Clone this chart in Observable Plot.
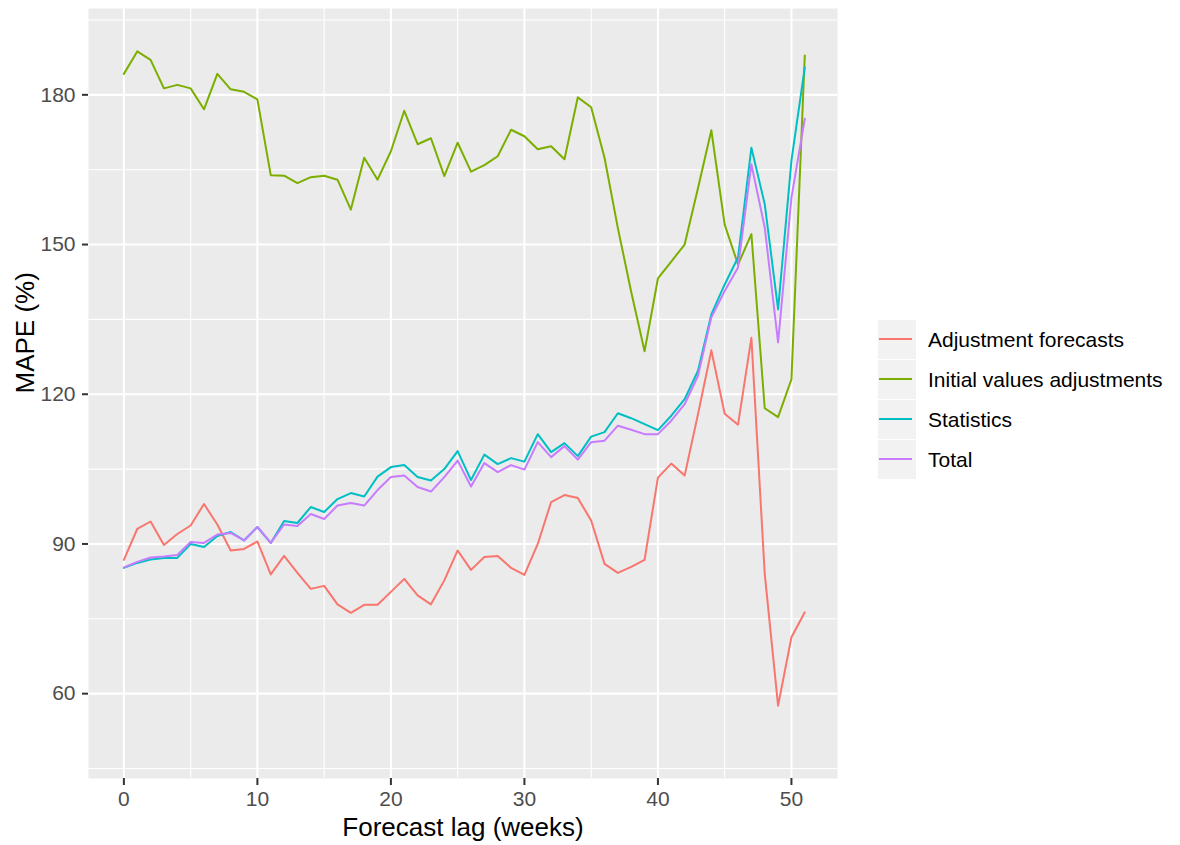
<!DOCTYPE html>
<html>
<head>
<meta charset="utf-8">
<script src="https://cdn.jsdelivr.net/npm/d3@7"></script>
<script src="https://cdn.jsdelivr.net/npm/@observablehq/plot@0.6"></script>
<style>
html,body{margin:0;padding:0;background:#fff;}
#wrap{position:relative;width:1180px;height:845px;font-family:"Liberation Sans",Arial,sans-serif;}
#wrap svg{position:absolute;left:0;top:0;}
#legend{position:absolute;left:878px;top:320px;}
.row{display:flex;align-items:center;height:40px;}
.key{width:38px;height:39px;margin-bottom:1px;background:#F2F2F2;position:relative;}
.key span{position:absolute;left:1px;width:33px;top:18px;height:2px;}
.lab{margin-left:12px;font-size:21px;color:#000;white-space:nowrap;}
</style>
</head>
<body>
<div id="wrap"><div id="legend"></div></div>
<script>
const series = ["Adjustment forecasts", "Initial values adjustments", "Statistics", "Total"];
const colors = ["#F8766D", "#7CAE00", "#00BFC4", "#C77CFF"];

const lags = [0,1,2,3,4,5,6,7,8,9,10,11,12,13,14,15,16,17,18,19,20,21,22,23,24,25,
  26,27,28,29,30,31,32,33,34,35,36,37,38,39,40,41,42,43,44,45,46,47,48,49,50,51];

const adjustmentForecasts = [86.8,93.0,94.5,89.8,92.0,93.7,98.0,93.9,88.7,89.0,
  90.5,83.9,87.6,84.2,81.0,81.6,77.9,76.2,77.8,77.8,
  80.4,83.0,79.7,77.9,82.7,88.7,84.8,87.4,87.6,85.2,
  83.8,90.0,98.4,99.8,99.2,94.7,86.0,84.2,85.4,86.8,
  103.3,106.1,103.7,116.0,128.8,116.1,113.9,131.3,84.0,57.6,
  71.3,76.3];
const initialValuesAdjustments = [184.2,188.7,187.0,181.3,182.0,181.3,177.1,184.2,181.1,180.6,
  179.1,163.9,163.8,162.3,163.5,163.8,163.0,157.0,167.4,163.0,
  168.7,176.8,170.1,171.3,163.7,170.4,164.6,165.9,167.7,173.0,
  171.7,169.1,169.7,167.1,179.5,177.5,167.4,153.3,140.5,128.6,
  143.2,146.6,150.0,161.3,172.9,154.0,146.0,152.1,117.2,115.4,
  123.0,187.9];
const statistics = [85.2,86.2,86.9,87.2,87.2,90.0,89.4,91.6,92.4,90.7,
  93.4,90.2,94.6,94.2,97.4,96.4,99.0,100.2,99.5,103.5,
  105.4,105.8,103.4,102.7,105.0,108.6,102.8,107.9,106.0,107.2,
  106.5,112.0,108.4,110.2,107.6,111.5,112.4,116.2,115.2,114.0,
  112.8,115.7,119.0,124.7,136.0,142.0,147.4,169.4,158.1,137.0,
  166.8,185.5];
const total = [85.3,86.4,87.3,87.5,87.8,90.4,90.2,91.9,92.2,90.7,
  93.4,90.2,93.9,93.6,96.0,95.0,97.7,98.2,97.7,100.8,
  103.4,103.7,101.4,100.5,103.4,106.7,101.5,106.2,104.4,105.8,
  104.9,110.4,107.4,109.6,106.9,110.4,110.7,113.7,112.9,112.0,
  112.0,114.7,118.0,123.7,135.4,140.7,145.4,166.1,153.4,130.4,
  159.4,175.2];

const xTicks = [0,10,20,30,40,50];
const xMinor = [5,15,25,35,45];
const yTicks = [60,90,120,150,180];
const yMinor = [45,75,105,135,165,195];

const xTitle = "Forecast lag (weeks)";
const yTitle = "MAPE (%)";

const valueSets = [adjustmentForecasts, initialValuesAdjustments, statistics, total];
const data = [];
series.forEach((s, i) => valueSets[i].forEach((v, j) => data.push({lag: lags[j], mape: v, series: s})));

const chart = Plot.plot({
  width: 1180,
  height: 845,
  marginLeft: 88,
  marginRight: 343,
  marginTop: 8,
  marginBottom: 67,
  style: {fontFamily: "Liberation Sans, Arial, sans-serif", fontSize: "21px", background: "transparent", overflow: "visible"},
  x: {domain: [-2.65, 53.45]},
  y: {domain: [43.0, 197.3]},
  color: {domain: series, range: colors},
  marks: [
    Plot.frame({fill: "#EBEBEB", stroke: "none"}),
    Plot.ruleX(xMinor, {stroke: "#FFFFFF", strokeWidth: 1.1}),
    Plot.ruleY(yMinor, {stroke: "#FFFFFF", strokeWidth: 1.1}),
    Plot.ruleX(xTicks, {stroke: "#FFFFFF", strokeWidth: 2.1}),
    Plot.ruleY(yTicks, {stroke: "#FFFFFF", strokeWidth: 2.1}),
    Plot.line(data, {x: "lag", y: "mape", z: "series", stroke: "series", strokeWidth: 2}),
    Plot.axisX({ticks: xTicks, tickSize: 7, tickPadding: 6, stroke: "#333333", strokeWidth: 2, fill: "#4D4D4D", fontSize: 21, label: null}),
    Plot.axisY({ticks: yTicks, tickSize: 6, tickPadding: 7, stroke: "#333333", strokeWidth: 2, fill: "#4D4D4D", fontSize: 21, label: null}),
    Plot.text([xTitle], {text: d => d, frameAnchor: "bottom", dy: 57, fontSize: 26, fill: "#000"}),
    Plot.text([yTitle], {text: d => d, frameAnchor: "left", dx: -63, rotate: -90, fontSize: 26, fill: "#000"})
  ]
});
document.getElementById("wrap").prepend(chart);

const legend = document.getElementById("legend");
series.forEach((s, i) => {
  const row = document.createElement("div");
  row.className = "row";
  const key = document.createElement("div");
  key.className = "key";
  const ln = document.createElement("span");
  ln.style.background = colors[i];
  key.appendChild(ln);
  const lab = document.createElement("div");
  lab.className = "lab";
  lab.textContent = s;
  row.appendChild(key);
  row.appendChild(lab);
  legend.appendChild(row);
});
</script>
</body>
</html>
